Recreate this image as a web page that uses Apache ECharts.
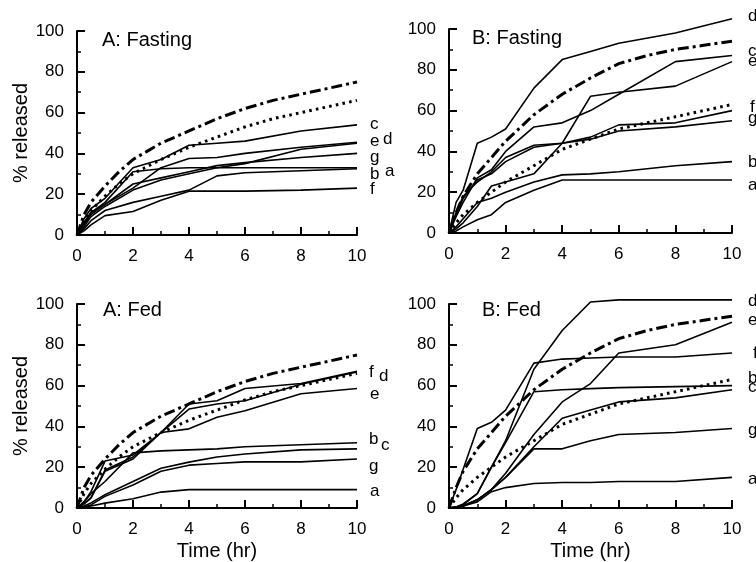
<!DOCTYPE html>
<html><head><meta charset="utf-8">
<script src="https://cdn.jsdelivr.net/npm/echarts@6/dist/echarts.min.js"></script>
<style>html,body{margin:0;padding:0;background:#fff}#c{width:756px;height:562px}</style>
</head><body><div id="c"></div><script>
// ---- time grids (hours) ----
const timesA = [0, 0.25, 0.5, 1, 2, 3, 4, 5, 6, 8, 10];
const timesB = [0, 0.25, 0.5, 1, 1.5, 2, 3, 4, 5, 6, 8, 10];
const timesRef = [0, 0.25, 0.5, 1, 1.5, 2, 3, 4, 5, 6, 7, 8, 9, 10];

// ---- reference curves (dash-dot and dotted) ----
const refDashA = [0, 10, 16, 24, 31, 37, 45, 51, 57, 62, 66, 69, 72, 75];
const refDotA  = [0, 7, 12, 19, 25, 30, 37, 43, 48, 53, 57, 60, 63, 66];
const refDashB = [0, 10, 18, 29, 37, 45, 58, 68, 76, 83, 87, 90, 92, 94];
const refDotB  = [0, 5, 9, 15, 20, 25, 33, 41, 46, 51, 54, 57, 60, 63];

// ---- A: Fasting (times A) ----
const aFast_a = [0, 3, 7, 12, 16, 19, 22, 29, 30.5, 31.5, 32.5];
const aFast_b = [0, 6, 11, 16, 31, 32.5, 33, 33, 33, 33, 33];
const aFast_c = [0, 8, 13, 18, 33, 37, 44, 45, 46, 51, 54];
const aFast_d = [0, 4, 9, 14, 22, 27, 30, 33, 35, 42, 45];
const aFast_e = [0, 5, 10, 15, 23, 33, 37.5, 38, 40, 43, 45.5];
const aFast_f = [0, 2, 5, 9.5, 11.5, 17, 21.5, 21.5, 21.5, 22, 23];
const aFast_g = [0, 6, 11, 15, 25, 28, 31, 34, 35.5, 38, 40];

// ---- B: Fasting (times B) ----
const bFast_a = [0, 1, 3, 6.5, 9, 15, 21, 26, 26, 26, 26, 26];
const bFast_b = [0, 3, 7, 15, 17, 20, 25, 28.5, 29, 30, 33, 35];
const bFast_c = [0, 8, 15, 27, 31, 40, 52, 54, 60, 68, 84, 87];
const bFast_d = [0, 15, 21, 44, 47, 51, 71, 85, 89, 93, 98, 105];
const bFast_e = [0, 2, 5, 13, 23, 25, 29, 44, 67, 69, 72, 84];
const bFast_f = [0, 10, 18, 25, 30, 37, 43, 44, 47, 53, 54, 60];
const bFast_g = [0, 9, 17, 26, 29, 35, 42, 44, 46, 50, 52, 55];

// ---- A: Fed (times A) ----
const aFed_a = [0, 0.5, 1, 2.4, 4.5, 7.8, 9, 9, 9, 9, 9];
const aFed_b = [0, 3, 7, 13, 27, 28, 28.5, 29, 30, 31, 32];
const aFed_c = [0, 1, 2.5, 6.5, 13, 19.5, 22.5, 25, 26.5, 28.5, 29];
const aFed_d = [0, 2, 5, 18, 24, 37, 48.5, 51, 52.6, 60.7, 66.7];
const aFed_e = [0, 3, 8, 23, 26, 37, 38.8, 44.5, 47.7, 56, 58.6];
const aFed_f = [0, 2, 5, 18.6, 25, 37, 51, 52.6, 58.6, 61, 67];
const aFed_g = [0, 0.5, 1.5, 5.7, 11.3, 18, 21, 21.8, 22.6, 22.6, 24];

// ---- B: Fed (times B) ----
const bFed_a = [0, 0.5, 1, 3, 8, 10, 12, 12.5, 12.5, 13, 13, 15];
const bFed_b = [0, 0.5, 1.5, 7, 20, 32, 57, 58, 58.5, 59, 59.5, 60];
const bFed_c = [0, 0.5, 1, 4, 9, 15, 30, 44, 48, 52, 54, 58];
const bFed_d = [0, 0.5, 2, 7, 20, 33, 68, 87, 101, 102, 102, 102];
const bFed_e = [0, 0.3, 1, 4, 9, 17, 36, 52, 61, 76, 80, 91];
const bFed_f = [0, 9, 19, 39, 42, 48, 71, 73, 73.5, 74, 74, 76];
const bFed_g = [0, 0.3, 1, 4, 9, 15, 29, 29, 33, 36, 37, 39];

const panelTitles = ['A: Fasting', 'B: Fasting', 'A: Fed', 'B: Fed'];
const letters = ['a', 'b', 'c', 'd', 'e', 'f', 'g'];

const FONT = '"Liberation Sans", Arial, Helvetica, sans-serif';
const zip = (t, v) => t.map((x, i) => [x, v[i]]);

const panels = [
  { times: timesA, ref: [refDashA, refDotA],
    lines: [aFast_a, aFast_b, aFast_c, aFast_d, aFast_e, aFast_f, aFast_g],
    off: { a: [28, 3], b: [13, 7], c: [13, -1], d: [26, -4], e: [13, -1], f: [13, 1], g: [13, 4] } },
  { times: timesB, ref: [refDashB, refDotB],
    lines: [bFast_a, bFast_b, bFast_c, bFast_d, bFast_e, bFast_f, bFast_g],
    off: { a: [16, 5], b: [16, 1], c: [16, -4], d: [16, -2], e: [16, 0], f: [18, -3], g: [16, -2] } },
  { times: timesA, ref: [refDashA, refDotA],
    lines: [aFed_a, aFed_b, aFed_c, aFed_d, aFed_e, aFed_f, aFed_g],
    off: { a: [13, 2], b: [12, -3], c: [24, -4], d: [22, 4], e: [13, 6], f: [12, 1], g: [12, 7] } },
  { times: timesB, ref: [refDashB, refDotB],
    lines: [bFed_a, bFed_b, bFed_c, bFed_d, bFed_e, bFed_f, bFed_g],
    off: { a: [16, 2], b: [16, -7], c: [16, -2], d: [16, 1], e: [16, -2], f: [21, 0], g: [16, 2] } }
];

const grids = [
  { left: 77, top: 31, width: 280, height: 204 },
  { left: 449, top: 29, width: 283, height: 204 },
  { left: 77, top: 304, width: 280, height: 205 },
  { left: 449, top: 304, width: 283, height: 205 }
];

function makeAxis(extra) {
  return Object.assign({
    axisLine: { show: true, lineStyle: { color: '#000', width: 2 } },
    axisTick: { show: true, inside: true, length: 8, lineStyle: { color: '#000', width: 2 } },
    minorTick: { show: true, splitNumber: 2, length: 4, lineStyle: { color: '#000', width: 1.5 } },
    splitLine: { show: false },
    axisLabel: { color: '#000', fontSize: 17, fontFamily: FONT, margin: 13 },
    nameTextStyle: { color: '#000', fontSize: 20, fontFamily: FONT }
  }, extra);
}

const xAxis = [], yAxis = [], series = [];
panels.forEach((p, i) => {
  const xa = { type: 'value', gridIndex: i, min: 0, max: 10, interval: 2 };
  if (i >= 2) { xa.name = 'Time (hr)'; xa.nameLocation = 'middle'; xa.nameGap = 33; }
  xAxis.push(makeAxis(xa));
  const ya = { type: 'value', gridIndex: i, min: 0, max: 100, interval: 20 };
  if (i % 2 === 0) { ya.name = '% released'; ya.nameLocation = 'middle'; ya.nameGap = 44; ya.nameRotate = 90; }
  yAxis.push(makeAxis(ya));
  series.push({
    type: 'line', xAxisIndex: i, yAxisIndex: i, data: zip(timesRef, p.ref[0]),
    symbol: 'none', clip: false,
    lineStyle: { color: '#000', width: 3, type: [11, 4, 3, 4] }
  });
  series.push({
    type: 'line', xAxisIndex: i, yAxisIndex: i, data: zip(timesRef, p.ref[1]),
    symbol: 'none', clip: false,
    lineStyle: { color: '#000', width: 3, type: [2.6, 4.2] }
  });
  p.lines.forEach((vals, k) => {
    const L = letters[k];
    series.push({
      name: L, type: 'line', xAxisIndex: i, yAxisIndex: i, data: zip(p.times, vals),
      symbol: 'none', clip: false,
      lineStyle: { color: '#000', width: 1.6 },
      endLabel: {
        show: true, formatter: L, color: '#000', fontSize: 17, fontFamily: FONT,
        distance: 0, offset: p.off[L], align: 'left', verticalAlign: 'middle'
      }
    });
  });
});

const title = panelTitles.map((t, i) => ({
  text: t, padding: 0,
  left: [102, 472, 103, 482][i], top: [30, 28, 300, 300][i],
  textStyle: { color: '#000', fontSize: 20, fontWeight: 'normal', fontFamily: FONT }
}));

const chart = echarts.init(document.getElementById('c'), null, { renderer: 'canvas' });
chart.setOption({
  animation: false,
  title, grid: grids, xAxis, yAxis, series
});
</script></body></html>
